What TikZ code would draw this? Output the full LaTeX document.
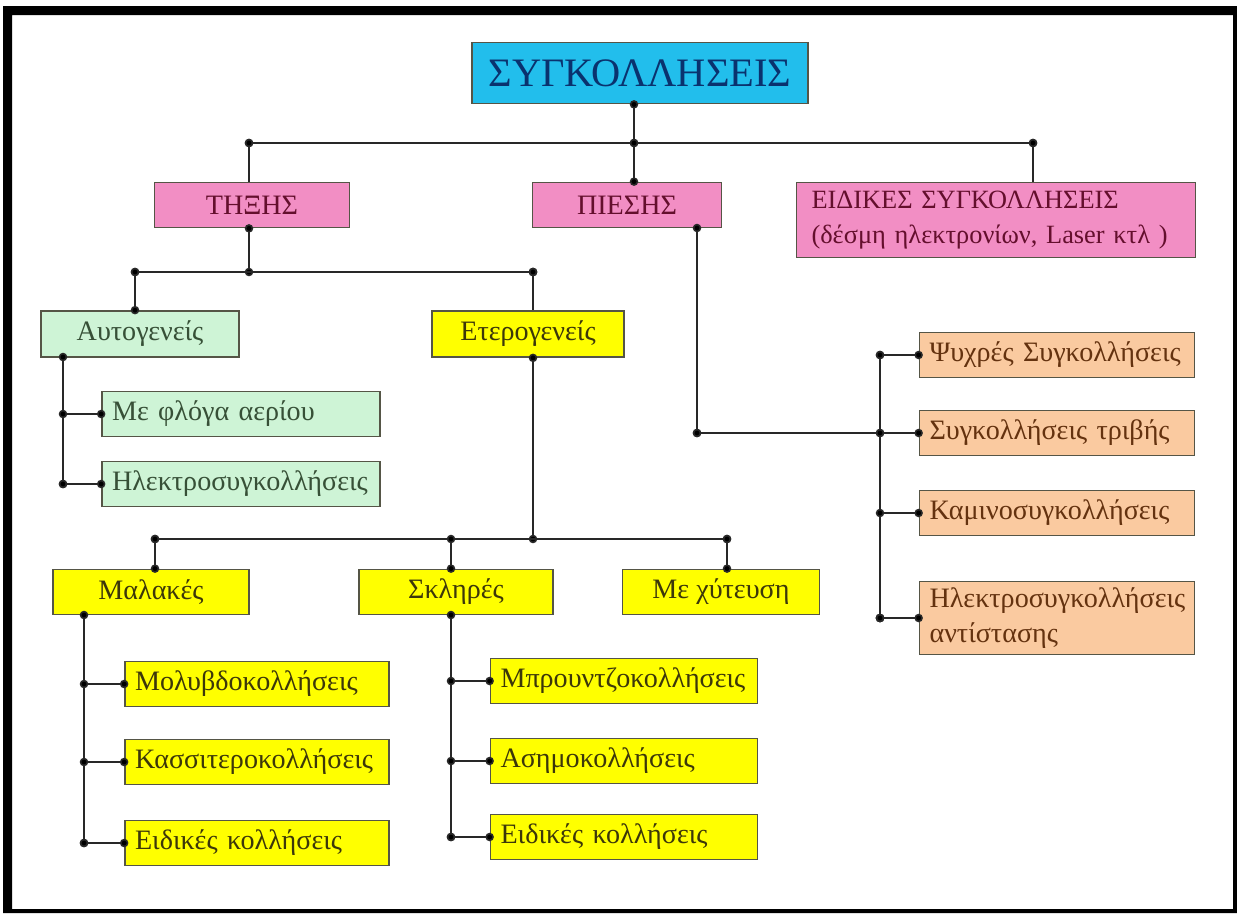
\documentclass[tikz,border=0pt]{standalone}
\usepackage{fontspec}
\setmainfont{Liberation Serif}
\usetikzlibrary{arrows.meta}

\definecolor{cCyan}{RGB}{34,190,236}
\definecolor{cPink}{RGB}{242,142,196}
\definecolor{cGreen}{RGB}{206,244,214}
\definecolor{cYellow}{RGB}{255,255,0}
\definecolor{cOrange}{RGB}{250,202,160}
\definecolor{boxline}{RGB}{85,85,70}
\definecolor{linecol}{RGB}{40,40,40}
\definecolor{titletext}{RGB}{10,50,110}
\definecolor{pinktext}{RGB}{100,15,45}
\definecolor{greentext}{RGB}{55,80,55}
\definecolor{yellowtext}{RGB}{60,55,10}
\definecolor{orangetext}{RGB}{100,50,15}

\begin{document}
\begin{tikzpicture}
  [x=0.02cm, y=-0.02cm,
   box/.style={draw=boxline, line width=1pt, inner sep=0pt, minimum height=0.9cm,
               font=\fontsize{16}{20}\selectfont},
   leaf/.style={box, align=left, inner xsep=0.2cm, text width=#1},
   pinkbox/.style={fill=cPink, text=pinktext},
   greenbox/.style={fill=cGreen, text=greentext},
   yellowbox/.style={fill=cYellow, text=yellowtext},
   orangebox/.style={fill=cOrange, text=orangetext}]

  \tikzstyle{link} = [draw=linecol, line width=0.9pt,
                      {Circle[length=4.8pt]}-{Circle[length=4.8pt]},
                      shorten >=-2.4pt, shorten <=-2.4pt]
  \tikzstyle{halflink} = [draw=linecol, line width=0.9pt,
                          {Circle[length=4.8pt]}-, shorten <=-2.4pt]

  % frame
  \fill[white] (0,0) rectangle (1237,913);
  \fill[black, even odd rule] (3,6) rectangle (1237,913) (12,15) rectangle (1233,909);

  \node[box, fill=cCyan, text=titletext, minimum width=6.72cm, minimum height=1.22cm,
        font=\fontsize{23}{26}\selectfont] (synk) at (640,73) {ΣΥΓΚΟΛΛΗΣΕΙΣ};

  \node[box, pinkbox, minimum width=3.9cm]  (tixis)  at (252,205) {ΤΗΞΗΣ};
  \node[box, pinkbox, minimum width=3.78cm] (piesis) at (627,205) {ΠΙΕΣΗΣ};
  \node[leaf=7.38cm, pinkbox, inner xsep=0.3cm, minimum height=1.5cm,
        font=\fontsize{15}{20}\selectfont]
        (eidikes) at (996,220) {ΕΙΔΙΚΕΣ ΣΥΓΚΟΛΛΗΣΕΙΣ\\(δέσμη ηλεκτρονίων, Laser κτλ )};

  \node[box, greenbox, minimum width=3.96cm, minimum height=0.92cm] (autog)  at (140,334) {Αυτογενείς};
  \node[box, yellowbox, minimum width=3.84cm, minimum height=0.92cm] (eterog) at (528,334) {Ετερογενείς};

  \node[leaf=5.16cm, greenbox] (flogi)   at (241,414) {Με φλόγα αερίου};
  \node[leaf=5.16cm, greenbox] (ilektro) at (241,484) {Ηλεκτροσυγκολλήσεις};

  \node[box, yellowbox, minimum width=3.92cm] (malakes) at (151,592) {Μαλακές};
  \node[box, yellowbox, minimum width=3.88cm] (skliris) at (456,592) {Σκληρές};
  \node[box, yellowbox, minimum width=3.94cm] (xyteusi) at (721,592) {Με χύτευση};

  \node[leaf=4.88cm, yellowbox] (molyv)  at (257,684) {Μολυβδοκολλήσεις};
  \node[leaf=4.88cm, yellowbox] (kassit) at (257,762) {Κασσιτεροκολλήσεις};
  \node[leaf=4.88cm, yellowbox] (eidik1) at (257,843) {Ειδικές κολλήσεις};

  \node[leaf=4.94cm, yellowbox] (brountz) at (624,681) {Μπρουντζοκολλήσεις};
  \node[leaf=4.94cm, yellowbox] (asimo)   at (624,761) {Ασημοκολλήσεις};
  \node[leaf=4.94cm, yellowbox] (eidik2)  at (624,837) {Ειδικές κολλήσεις};

  \node[leaf=5.1cm, orangebox] (psyxr)  at (1057,355) {Ψυχρές Συγκολλήσεις};
  \node[leaf=5.1cm, orangebox] (trivis) at (1057,433) {Συγκολλήσεις τριβής};
  \node[leaf=5.1cm, orangebox] (kamino) at (1057,513) {Καμινοσυγκολλήσεις};
  \node[leaf=5.1cm, orangebox, minimum height=1.46cm]
        (antist) at (1057,618) {Ηλεκτροσυγκολλήσεις\\αντίστασης};

  \coordinate (t1) at (249,143);
  \coordinate (t2) at (634,143);
  \coordinate (t3) at (1033,143);
  \coordinate (m1) at (135,272);
  \coordinate (m2) at (249,272);
  \coordinate (m3) at (533,272);
  \coordinate (sa) at (63,357);
  \coordinate (l1) at (155,539);
  \coordinate (l2) at (451,539);
  \coordinate (l3) at (533,539);
  \coordinate (l4) at (727,539);
  \coordinate (sm) at (84,615);
  \coordinate (ss) at (451,615);
  \coordinate (sp) at (697,228);
  \coordinate (rs) at (880,433);

  \path[link]
        (synk.south -| t2)   edge (t2)
        (t1)                 edge (t3)
        (t2)                 edge (piesis.north -| t2)
        (tixis.south -| m2)  edge (m2)
        (m1)                 edge (m3)
        (m1)                 edge (autog.north -| m1)
        (sa)                 edge (sa |- ilektro.west)
        (sa |- flogi.west)   edge (flogi.west)
        (sa |- ilektro.west) edge (ilektro.west)
        (eterog.south -| l3) edge (l3)
        (l1)                 edge (l4)
        (l1)                 edge (malakes.north -| l1)
        (l2)                 edge (skliris.north -| l2)
        (l4)                 edge (xyteusi.north -| l4)
        (sm)                 edge (sm |- eidik1.west)
        (sm |- molyv.west)   edge (molyv.west)
        (sm |- kassit.west)  edge (kassit.west)
        (sm |- eidik1.west)  edge (eidik1.west)
        (ss)                 edge (ss |- eidik2.west)
        (ss |- brountz.west) edge (brountz.west)
        (ss |- asimo.west)   edge (asimo.west)
        (ss |- eidik2.west)  edge (eidik2.west)
        (sp)                 edge (sp |- rs)
        (sp |- rs)           edge (rs)
        (rs |- psyxr.west)   edge (rs |- antist.west)
        (rs |- psyxr.west)   edge (psyxr.west)
        (rs)                 edge (trivis.west)
        (rs |- kamino.west)  edge (kamino.west)
        (rs |- antist.west)  edge (antist.west);

  \path[halflink]
        (t1) edge (tixis.north -| t1)
        (t3) edge (eidikes.north -| t3)
        (m3) edge (eterog.north -| m3);
\end{tikzpicture}
\end{document}
